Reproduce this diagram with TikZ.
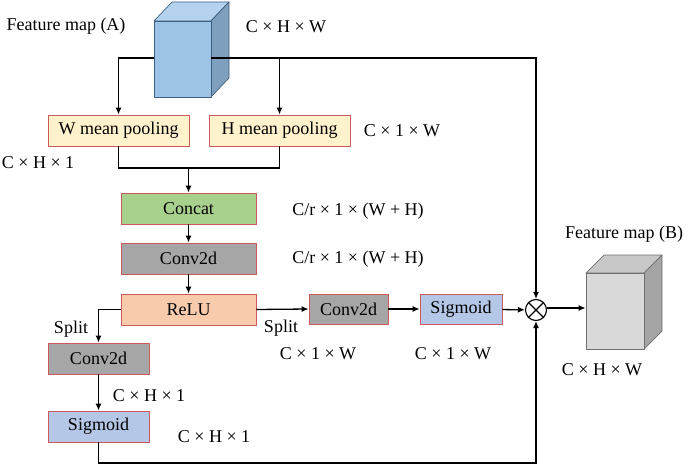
\documentclass[tikz,border=0pt]{standalone}
\usepackage{fontspec}
\setmainfont{Liberation Serif}
\usetikzlibrary{arrows.meta,calc}
\definecolor{boxred}{RGB}{205,90,90}
\definecolor{poolfill}{HTML}{FFF2CC}
\definecolor{concatfill}{HTML}{A9D18E}
\definecolor{convfill}{HTML}{A6A6A6}
\definecolor{relufill}{HTML}{F8CBAD}
\definecolor{sigfill}{HTML}{B4C7E7}
\definecolor{cubeAfront}{HTML}{9DC3E6}
\definecolor{cubeAtop}{HTML}{B5D2EE}
\definecolor{cubeAside}{HTML}{7F9FBF}
\definecolor{cubeAedge}{HTML}{3F5F7F}
\definecolor{cubeBfront}{HTML}{D9D9D9}
\definecolor{cubeBtop}{HTML}{C8C8C8}
\definecolor{cubeBside}{HTML}{A5A5A5}
\definecolor{cubeBedge}{HTML}{6F6F6F}
\begin{document}
\begin{tikzpicture}[x=1pt,y=-1pt,
  box/.style={draw=boxred, line width=0.8pt, minimum height=31pt, inner sep=0pt, font=\fontsize{18}{20}\selectfont},
  lbl/.style={font=\fontsize{18}{20}\selectfont, inner sep=0pt},
  conn/.style={line width=1.3pt, -{Latex[length=7pt,width=6pt]}},
  plain/.style={line width=1.3pt},
  face/.style={line width=0.7pt, line join=round}
]
\useasboundingbox (0,0) rectangle (685,465);

% cube A
\draw[face, draw=cubeAedge, fill=cubeAtop] (154,21) -- (172,2) -- (229,2) -- (211,21) -- cycle;
\draw[face, draw=cubeAedge, fill=cubeAside] (211,21) -- (229,2) -- (229,78) -- (211,97) -- cycle;
\node[face, draw=cubeAedge, fill=cubeAfront, minimum width=57pt, minimum height=76pt, inner sep=0pt] (cubeA) at (182.5,59) {};

% cube B
\draw[face, draw=cubeBedge, fill=cubeBtop] (586,273) -- (604,255) -- (662,255) -- (644,273) -- cycle;
\draw[face, draw=cubeBedge, fill=cubeBside] (644,273) -- (662,255) -- (662,331) -- (644,349) -- cycle;
\node[face, draw=cubeBedge, fill=cubeBfront, minimum width=58pt, minimum height=76pt, inner sep=0pt] (cubeB) at (615,311) {};

% boxes
\node[box, fill=poolfill, minimum width=141pt] (wpool) at (118.5,130.5) {W mean pooling};
\node[box, fill=poolfill, minimum width=141pt] (hpool) at (279.5,130.5) {H mean pooling};
\node[box, fill=concatfill, minimum width=135pt] (concat) at (188.5,208.5) {Concat};
\node[box, fill=convfill, minimum width=135pt] (conva) at (188.5,258.5) {Conv2d};
\node[box, fill=relufill, minimum width=135pt] (relu) at (188.5,309.5) {ReLU};
\node[box, fill=convfill, minimum width=101pt] (convl) at (98.5,358.5) {Conv2d};
\node[box, fill=sigfill, minimum width=101pt] (sigl) at (98.5,426.5) {Sigmoid};
\node[box, fill=convfill, minimum width=79pt, minimum height=30pt] (convr) at (348.5,309) {Conv2d};
\node[box, fill=sigfill, minimum width=82pt, minimum height=30pt] (sigr) at (461,309) {Sigmoid};
\node[circle, draw, line width=1.1pt, minimum size=21pt, inner sep=0pt] (mul) at (536,310) {};
\draw[line width=1.1pt] (mul.north east) -- (mul.south west) (mul.north west) -- (mul.south east);

\coordinate (merge) at (188.5,168);
\coordinate (botR) at (536,463);

% connectors
\draw[conn] (cubeA.west |- 0,58) -| (wpool.north);
\draw[conn] (cubeA.east |- 0,58) -| (hpool.north);
\draw[conn] (cubeA.east |- 0,58) -| (mul.north);
\draw[plain] (wpool.south) |- (merge) -| (hpool.south);
\draw[conn] (merge) -- (concat.north);
\draw[conn] (concat) -- (conva);
\draw[conn] (conva) -- (relu);
\draw[conn] (relu.west) -| (convl.north);
\draw[conn] (convl) -- (sigl);
\draw[conn] (relu.east) -- (convr.west);
\draw[conn] (convr) -- (sigr);
\draw[conn] (sigr) -- (mul);
\draw[conn] (mul.east |- 0,308) -- (cubeB.west |- 0,308);
\draw[conn] (sigl.south) |- (botR) -- (mul.south);

% labels
\node[lbl] (tA) at (66,26) {Feature map (A)};
\node[lbl] (dA) at (286,27) {C × H × W};
\node[lbl] (dH) at (402,131) {C × 1 × W};
\node[lbl] (dW) at (38,163) {C × H × 1};
\node[lbl] (dc1) at (358,211) {C/r × 1 × (W + H)};
\node[lbl] (dc2) at (358,259) {C/r × 1 × (W + H)};
\node[lbl] (spl) at (71,329) {Split};
\node[lbl] (spr) at (281,328) {Split};
\node[lbl] (d1) at (318,354) {C × 1 × W};
\node[lbl] (d2) at (453,354) {C × 1 × W};
\node[lbl] (d3) at (149,396) {C × H × 1};
\node[lbl] (d4) at (214,437) {C × H × 1};
\node[lbl] (tB) at (624,234) {Feature map (B)};
\node[lbl] (dB) at (602,370) {C × H × W};
\end{tikzpicture}
\end{document}
